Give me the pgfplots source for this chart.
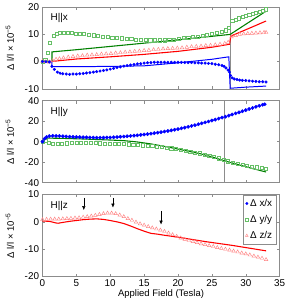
\documentclass[border=0pt]{standalone}
\usepackage{pgfplots}
\pgfplotsset{compat=1.18}
\usepackage{fontspec}
\setmainfont{Liberation Sans}
\usetikzlibrary{arrows.meta}
\definecolor{mblue}{rgb}{0,0,1}
\definecolor{mgreen}{rgb}{0,0.5,0}
\definecolor{lgreen}{rgb}{0.4,0.75,0.4}
\definecolor{mred}{rgb}{1,0,0}
\definecolor{lred}{rgb}{1,0.5,0.5}
\definecolor{boxgray}{rgb}{0.55,0.55,0.55}
\tikzset{arr/.style={-{Latex[length=4pt,width=3.5pt]}, line width=0.5pt, black}}
\pgfplotsset{
  panel/.style={
    width=240pt, height=83pt, scale only axis,
    xmin=0, xmax=35, xtick={0,5,...,35},
    tick align=inside, major tick length=3pt,
    axis line style={boxgray}, tick style={boxgray, thin},
    ticklabel style={font=\fontsize{10}{11}\selectfont},
    /pgf/number format/assume math mode=true,
    label style={font=\fontsize{9.6}{11}\selectfont},
    ylabel={Δ l/l × 10\textsuperscript{−5}},
    ylabel shift=4pt,
    clip=true,
  },
  bdots/.style={only marks, mark=*, mark size=1.35pt, color=mblue},
  gsq/.style={only marks, mark=square, mark size=1.6pt, color=lgreen, mark options={line width=0.45pt}},
  rtri/.style={only marks, mark=triangle, mark size=2.1pt, color=lred, mark options={line width=0.45pt}},
}
\begin{document}
\begin{tikzpicture}
% ---------------- top panel: H||x
\begin{axis}[panel, name=top, at={(0pt,0pt)}, anchor=north west,
  ymin=-10, ymax=20, ytick={-10,0,10,20}, xticklabels={}]
\addplot[boxgray, thin] coordinates {(27.7,-10) (27.7,20)};
\addplot[gsq] coordinates {
(0,0) (0.4,0.5) (0.75,3.1) (1.1,6.9) (1.6,9.4) (2.1,10.2) (2.6,10.4) (3.1,10.5) (3.7,10.5) (4.3,10.4)
(4.9,10.3) (5.5,10.2) (6.1,10.0) (6.8,9.9) (7.5,9.6) (8.2,9.4) (8.9,9.2) (9.6,9.0) (10.3,8.8) (11.0,8.6)
(11.7,8.5) (12.4,8.4) (13.1,8.3) (13.8,8.1) (14.5,8.0) (15.2,7.9) (15.9,7.8) (16.6,7.8) (17.3,7.8) (18.0,7.8)
(18.7,7.9) (19.4,8.1) (20.1,8.4) (20.8,8.6) (21.5,8.8) (22.2,9.0) (22.9,9.2) (23.6,9.5) (24.3,9.8) (25.0,10.1)
(25.7,10.5) (26.4,10.9) (27.0,11.4) (27.5,12.2) (28.0,14.8) (28.5,15.3) (29.0,15.8) (29.5,16.3) (30.0,16.7)
(30.5,17.1) (31.0,17.5) (31.5,17.9) (32.0,18.3) (32.5,18.7) (33.0,19.1)};
\addplot[rtri] coordinates {
(0,0) (0.5,-0.1) (1.0,-0.2) (1.5,0.3) (2.0,0.8) (2.5,1.0) (3.1,1.3) (3.8,1.6) (4.5,1.8) (5.2,2.0)
(5.9,2.1) (6.6,2.3) (7.3,2.4) (8.0,2.5) (8.7,2.7) (9.4,2.8) (10.1,2.9) (10.8,3.1) (11.5,3.2) (12.2,3.4)
(12.9,3.5) (13.6,3.7) (14.3,3.8) (15.0,4.0) (15.7,4.1) (16.4,4.3) (17.1,4.4) (17.8,4.6) (18.5,4.7) (19.2,4.8)
(19.9,4.9) (20.6,5.0) (21.3,5.2) (22.0,5.4) (22.7,5.5) (23.4,5.6) (24.1,5.8) (24.8,5.9) (25.5,6.1) (26.2,6.3)
(26.9,6.6) (27.4,7.0) (27.9,9.0) (28.5,9.5) (29.1,9.9) (29.7,10.1) (30.3,10.2) (30.9,10.3) (31.5,10.4)
(32.1,10.5) (32.7,10.6) (33.0,10.6)};
\addplot[mgreen, line width=1.1pt] coordinates {
(0,0) (1.4,0) (1.4,3.5) (5,4.3) (10,5.5) (15,6.7) (20,7.9) (25,9.2) (27.7,9.9) (30,13.6) (33,18.4)};
\addplot[mred, line width=1.1pt] coordinates {
(0,0) (1.3,0) (5,0.9) (10,1.7) (15,2.6) (20,3.7) (25,5.2) (27.6,6.3) (27.8,9.3) (30,11.6) (33,14.8)};
\addplot[mblue, line width=1.0pt] coordinates {
(0,0) (1.4,0) (1.4,-1.9) (5,-1.9) (10,-1.8) (15,-1.6) (20,-0.5) (25,0.8) (27.5,1.7) (27.7,-9.8) (30,-9.4) (33,-9.0)};
\addplot[bdots] coordinates {
(0,0) (0.5,-0.1) (1.0,-0.2) (1.4,-1.8) (1.75,-2.9) (2.2,-3.9) (2.6,-4.3) (3.0,-4.5) (3.5,-4.6) (4.0,-4.7)
(4.5,-4.6) (5.0,-4.6) (5.5,-4.5) (6.0,-4.4) (6.5,-4.2) (7.0,-4.1) (7.5,-3.9) (8.0,-3.7) (8.5,-3.5) (9.0,-3.3)
(9.5,-3.1) (10.0,-2.8) (10.5,-2.5) (11.0,-2.2) (11.5,-2.0) (12.0,-1.7) (12.5,-1.5) (13.0,-1.3) (13.5,-1.1)
(14.0,-0.9) (14.5,-0.8) (15.0,-0.6) (15.5,-0.5) (16,-0.4) (16.5,-0.3) (17,-0.3) (17.5,-0.3) (18,-0.3)
(18.5,-0.3) (19,-0.3) (19.5,-0.3) (20,-0.3) (20.5,-0.3) (21,-0.4) (21.5,-0.4) (22,-0.4) (22.5,-0.5)
(23,-0.5) (23.5,-0.6) (24,-0.6) (24.5,-0.7) (25,-0.8) (25.5,-1.0) (26,-1.2) (26.5,-1.5) (26.8,-1.8)
(27.1,-2.4) (27.4,-3.2) (27.6,-3.9) (27.75,-5.1) (28.0,-6.0) (28.3,-6.4) (28.7,-6.6) (29.1,-6.8)
(29.5,-6.9) (30,-7.0) (30.5,-7.1) (31,-7.2) (31.5,-7.3) (32,-7.4) (32.5,-7.4) (33,-7.5)};
\node[anchor=north west, font=\fontsize{10}{11}\selectfont] at (rel axis cs:0.02,0.96) {H||x};
\end{axis}
% ---------------- middle panel: H||y
\begin{axis}[panel, name=mid, at={(0pt,-95pt)}, anchor=north west,
  ymin=-40, ymax=40, ytick={-40,-20,0,20,40}, xticklabels={}]
\addplot[boxgray, thin] coordinates {(26.8,-40) (26.8,40)};
\addplot[gsq] coordinates {
(0,0) (0.4,0.6) (0.9,-1.0) (1.5,-1.6) (2.2,-2.0) (2.9,-1.8) (3.6,-1.5) (4.3,-1.3) (5.0,-1.2) (5.7,-1.2)
(6.4,-1.2) (7.1,-1.3) (7.8,-1.4) (8.5,-1.5) (9.2,-1.7) (9.9,-1.9) (10.6,-2.0) (11.3,-2.1) (12.0,-2.3)
(12.7,-2.5) (13.4,-2.8) (14.1,-3.1) (14.8,-3.5) (15.5,-3.9) (16.2,-4.3) (16.9,-4.8) (17.6,-5.3)
(18.3,-5.8) (19.0,-6.4) (19.7,-7.2) (20.4,-8.0) (21.1,-8.9) (21.8,-9.8) (22.5,-10.5) (23.2,-11.3)
(23.9,-12.4) (24.6,-13.5) (25.3,-14.8) (26.0,-16.2) (26.7,-17.6) (27.4,-19.0) (28.1,-20.2) (28.8,-21.3)
(29.5,-22.4) (30.2,-23.3) (30.9,-24.1) (31.6,-24.9) (32.3,-25.6) (32.9,-26.2)};
\addplot[mgreen, line width=1.1pt] coordinates {
(0,0) (0.6,3.5) (3,3.2) (6,2.6) (10,1.6) (12,1.0) (14,-0.3) (16,-2.2) (18.5,-5.2) (21,-8.6) (23.3,-11.8)
(25,-14.8) (26.8,-18.6) (29,-22.6) (31,-26.2) (33,-29.6)};
\addplot[bdots, mark size=1.7pt] coordinates {
(0,0) (0.3,2.9) (0.6,4.5) (1.0,5.5) (1.5,5.7) (2.0,5.6) (2.5,5.5) (3.0,5.3) (3.5,5.1) (4.0,4.9)
(4.5,4.7) (5.0,4.6) (5.5,4.4) (6,4.3) (6.5,4.2) (7,4.1) (7.5,4.0) (8,3.9) (8.5,3.9) (9,3.9)
(9.5,4.0) (10,4.1) (10.5,4.3) (11,4.5) (11.5,4.8) (12,5.0) (12.5,5.3) (13,5.6) (13.5,5.9) (14,6.2)
(14.5,6.6) (15,7.0) (15.5,7.4) (16,7.8) (16.5,8.3) (17,8.8) (17.5,9.3) (18,9.9) (18.5,10.4) (19,11.0)
(19.5,11.6) (20,12.3) (20.5,13.0) (21,13.7) (21.5,14.5) (22,15.3) (22.5,16.1) (23,17.0) (23.5,17.9)
(24,18.8) (24.5,19.7) (25,20.6) (25.5,21.5) (26,22.5) (26.5,23.5) (27,24.4) (27.5,25.4) (28,26.5)
(28.5,27.6) (29,28.6) (29.5,29.7) (30,30.8) (30.5,31.9) (31,32.9) (31.5,34.0) (32,35.0) (32.5,36.0) (32.8,36.5)};
\addplot[white, line width=0.45pt] coordinates {
(5,4.6) (10,4.1) (15,7.0) (20,12.3) (25,20.6) (28,26.5) (30,30.8) (32.8,36.3)};
\node[anchor=north west, font=\fontsize{10}{11}\selectfont] at (rel axis cs:0.02,0.96) {H||y};
\end{axis}
% ---------------- bottom panel: H||z
\begin{axis}[panel, name=bot, at={(0pt,-190pt)}, anchor=north west,
  ymin=-20, ymax=10, ytick={-20,-10,0,10},
  xlabel={Applied Field (Tesla)}, xlabel shift=-4pt,
  legend style={at={(0.988,1)}, anchor=north east, draw=boxgray, thin,
    font=\fontsize{10}{11}\selectfont, row sep=3.5pt, inner sep=2.5pt},
  legend cell align=left]
\addlegendimage{only marks, mark=*, mark size=1.3pt, mblue}
\addlegendentry{Δ x/x}
\addlegendimage{only marks, mark=square, mark size=1.3pt, lgreen}
\addlegendentry{Δ y/y}
\addlegendimage{only marks, mark=triangle, mark size=1.6pt, lred}
\addlegendentry{Δ z/z}
\addplot[rtri, forget plot] coordinates {
(0,0.8) (0.6,0.9) (1.2,1.0) (1.8,1.0) (2.4,1.0) (3,1.1) (3.6,1.2) (4.2,1.3) (4.8,1.4) (5.4,1.5)
(6,1.7) (6.6,1.9) (7.2,2.1) (7.8,2.4) (8.4,2.7) (9,3.0) (9.6,3.2) (10.2,3.2) (10.8,3.0) (11.4,2.5)
(12,1.9) (12.6,1.2) (13.2,0.6) (13.8,-0.1) (14.4,-0.7) (15,-1.2) (15.6,-1.7) (16.2,-2.2) (16.8,-2.6)
(17.4,-3.0) (18,-3.5) (18.6,-4.1) (19.2,-4.7) (19.8,-5.3) (20.4,-5.9) (21,-6.4) (21.6,-6.8) (22.2,-7.2)
(22.8,-7.6) (23.4,-8.0) (24,-8.3) (24.6,-8.7) (25.2,-9.0) (25.8,-9.4) (26.4,-9.7) (27,-10.0) (27.6,-10.3)
(28.2,-10.7) (28.8,-11.0) (29.4,-11.4) (30,-11.7) (30.6,-12.1) (31.2,-12.5) (31.8,-12.9) (32.4,-13.3) (33,-13.8)};
\addplot[mred, line width=1.1pt, forget plot] coordinates {
(0,0.3) (1,0.2) (2,-0.4) (2.3,-0.5) (3,-0.2) (4,0.2) (5,0.5) (6,0.8) (7,1.0) (8,1.1) (9,0.9) (10,0.5)
(11,0) (12,-0.6) (13,-1.5) (14,-2.5) (15,-3.4) (15.5,-3.8) (16,-4.2) (17,-4.5) (18,-4.9) (20,-5.6)
(22,-6.4) (24,-7.2) (26,-7.9) (28,-8.6) (30,-9.4) (33,-10.6)};
\draw[arr] (axis cs:6.1,8.8) -- (axis cs:6.1,4.3);
\draw[arr] (axis cs:10.4,8.8) -- (axis cs:10.4,5.2);
\draw[arr] (axis cs:17.5,4.0) -- (axis cs:17.5,-1.0);
\node[anchor=north west, font=\fontsize{10}{11}\selectfont] at (rel axis cs:0.02,0.96) {H||z};
\end{axis}
\path ([xshift=16pt]top.north east);
\path ([xshift=-43pt]top.north west);
\end{tikzpicture}
\end{document}
